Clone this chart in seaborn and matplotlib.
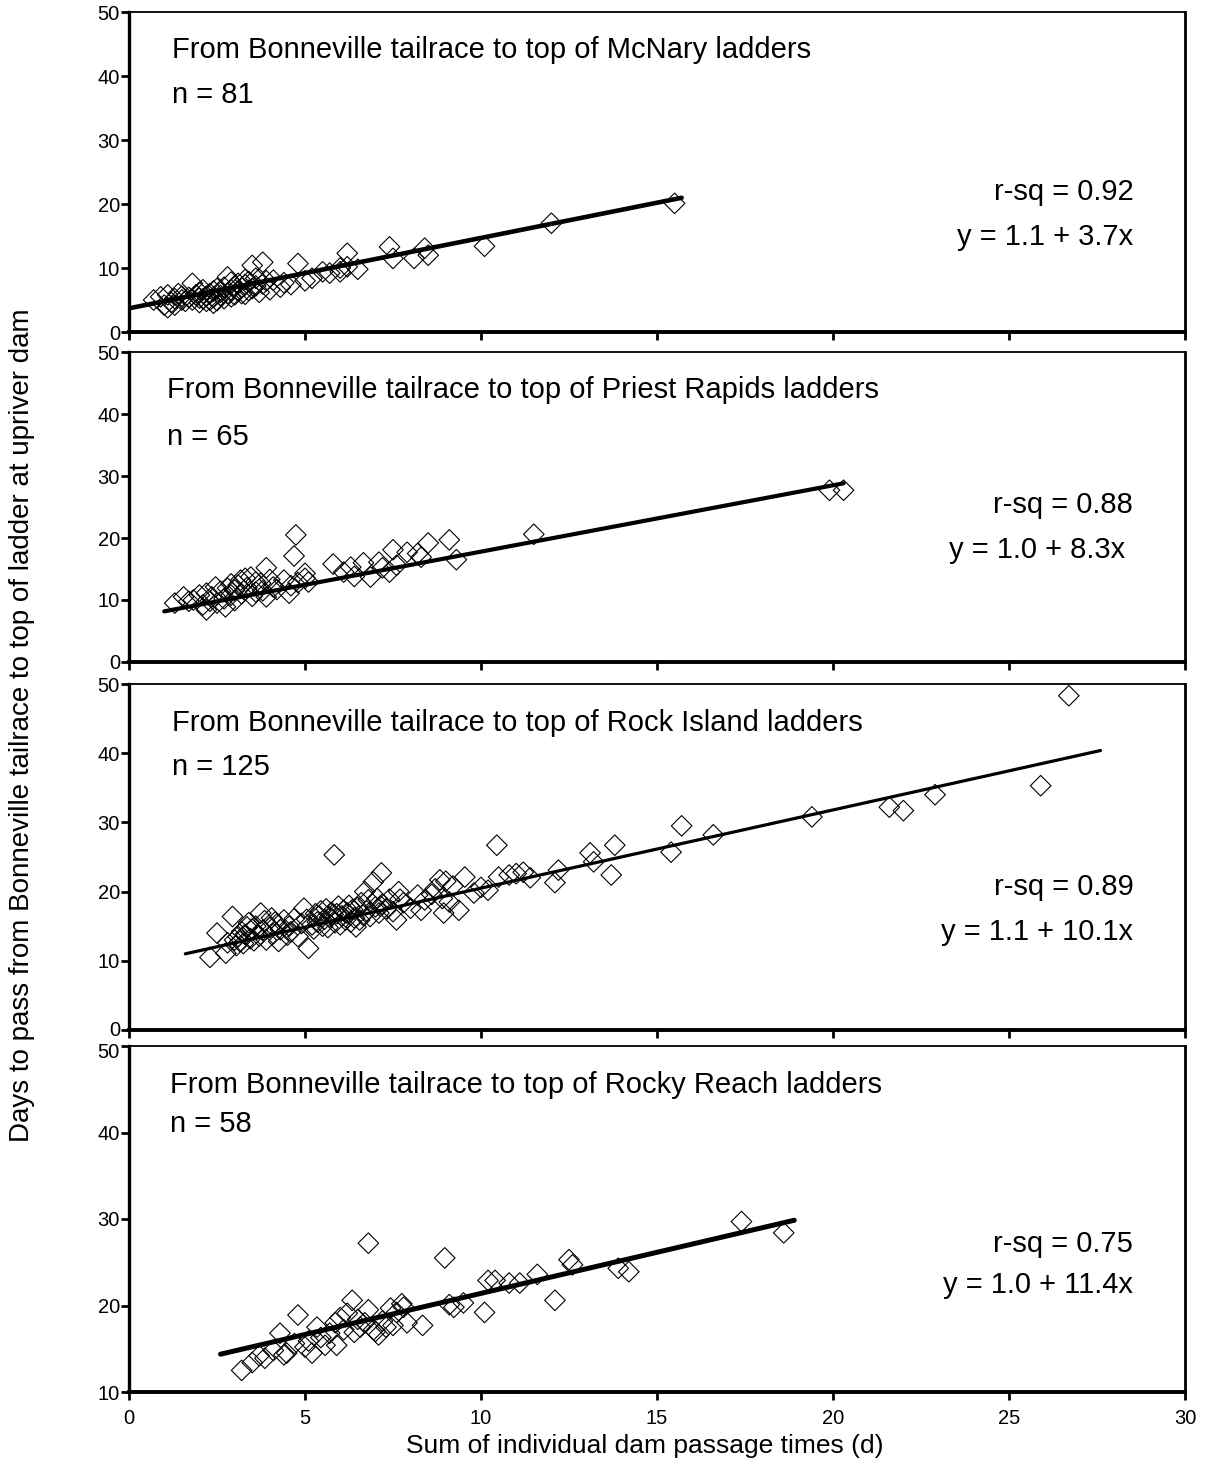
import numpy as np
import matplotlib
matplotlib.use("Agg")
import matplotlib.pyplot as plt
import matplotlib.transforms as mtransforms
import seaborn as sns

# ---------------- data ----------------
titles = [
    "From Bonneville tailrace to top of McNary ladders",
    "From Bonneville tailrace to top of Priest Rapids ladders",
    "From Bonneville tailrace to top of Rock Island ladders",
    "From Bonneville tailrace to top of Rocky Reach ladders",
]
n_labels = ["n = 81", "n = 65", "n = 125", "n = 58"]
rsq_labels = ["r-sq = 0.92", "r-sq = 0.88", "r-sq = 0.89", "r-sq = 0.75"]
eq_labels = ["y = 1.1 + 3.7x", "y = 1.0 + 8.3x ", "y = 1.1 + 10.1x", "y = 1.0 + 11.4x"]

mcnary_x = [0.7, 0.9, 1.0, 1.1, 1.1, 1.2, 1.3, 1.3, 1.4, 1.5, 1.5, 1.6, 1.7, 1.8, 1.8, 1.9,
            2.0, 2.0, 2.0, 2.1, 2.1, 2.2, 2.2, 2.3, 2.3, 2.4, 2.4, 2.4, 2.5, 2.5, 2.6, 2.6,
            2.7, 2.7, 2.8, 2.8, 2.9, 2.9, 2.9, 3.0, 3.0, 3.1, 3.1, 3.2, 3.2, 3.3, 3.3, 3.3,
            3.4, 3.4, 3.5, 3.5, 3.6, 3.6, 3.7, 3.8, 3.8, 3.9, 4.0, 4.1, 4.3, 4.4, 4.6, 4.8,
            5.0, 5.2, 5.5, 5.7, 6.0, 6.0, 6.2, 6.2, 6.5, 7.4, 7.5, 8.1, 8.4, 8.5, 10.1, 12.0, 15.5]
mcnary_y = [5.0, 5.5, 4.2, 3.8, 5.8, 4.6, 5.2, 4.2, 6.0, 5.0, 5.6, 4.8, 5.4, 7.6, 5.0, 5.8,
            4.6, 6.2, 5.3, 5.2, 6.6, 4.8, 5.6, 6.0, 5.0, 6.4, 5.4, 4.5, 4.9, 6.8, 5.7, 6.2,
            5.2, 7.0, 8.6, 6.0, 5.5, 6.6, 7.8, 7.2, 5.8, 6.4, 7.6, 6.0, 6.9, 7.4, 5.9, 8.2,
            6.5, 7.9, 10.4, 6.8, 7.2, 8.4, 6.2, 10.9, 7.5, 8.0, 6.6, 8.1, 7.0, 7.7, 7.4, 10.7,
            8.0, 8.4, 9.4, 9.2, 9.4, 10.0, 12.3, 10.2, 9.8, 13.3, 11.5, 11.5, 13.1, 12.0, 13.4, 17.0, 20.1]

priest_x = [1.3, 1.55, 1.7, 1.83, 2.0, 2.1, 2.2, 2.2, 2.3, 2.35, 2.46, 2.5, 2.6, 2.7, 2.74, 2.8,
            2.9, 2.9, 3.0, 3.0, 3.1, 3.17, 3.2, 3.3, 3.35, 3.46, 3.5, 3.6, 3.6, 3.74, 3.8, 3.9,
            3.9, 4.0, 4.1, 4.2, 4.4, 4.55, 4.6, 4.69, 4.74, 4.8, 5.0, 5.0, 5.1, 5.8, 6.1, 6.3,
            6.4, 6.66, 6.86, 7.1, 7.2, 7.4, 7.5, 7.6, 7.9, 8.2, 8.3, 8.5, 9.1, 9.3, 11.5, 19.9, 20.3]
priest_y = [9.5, 10.5, 9.8, 10.0, 10.8, 9.2, 11.1, 8.4, 9.8, 10.5, 12.1, 9.5, 11.4, 10.2, 8.9, 11.9,
            10.8, 12.6, 11.6, 9.9, 12.4, 13.2, 11.0, 13.5, 12.0, 13.7, 10.6, 12.9, 11.3, 12.7, 11.5, 15.2,
            10.5, 13.3, 12.1, 11.7, 13.2, 11.1, 12.3, 17.1, 20.5, 12.8, 14.3, 13.5, 12.9, 15.8, 14.5, 15.3,
            13.8, 16.0, 13.7, 16.1, 15.2, 14.5, 18.1, 15.6, 17.7, 17.5, 16.9, 19.2, 19.7, 16.5, 20.6, 27.7, 27.7]

rock_x = [2.3, 2.5, 2.75, 2.8, 2.94, 3.0, 3.05, 3.1, 3.15, 3.2, 3.25, 3.3, 3.35, 3.4, 3.45, 3.5,
          3.55, 3.6, 3.7, 3.74, 3.8, 3.85, 3.9, 4.0, 4.05, 4.1, 4.15, 4.2, 4.25, 4.3, 4.4, 4.5,
          4.55, 4.6, 4.7, 4.8, 4.9, 4.97, 5.05, 5.1, 5.2, 5.25, 5.3, 5.35, 5.4, 5.45, 5.5, 5.55,
          5.6, 5.65, 5.7, 5.75, 5.8, 5.83, 5.85, 5.9, 5.95, 6.0, 6.05, 6.1, 6.15, 6.2, 6.25, 6.3,
          6.35, 6.4, 6.45, 6.5, 6.55, 6.6, 6.65, 6.7, 6.75, 6.8, 6.85, 6.94, 7.0, 7.05, 7.1, 7.15,
          7.17, 7.2, 7.3, 7.4, 7.5, 7.6, 7.66, 7.7, 7.8, 8.0, 8.2, 8.3, 8.4, 8.6, 8.7, 8.83,
          8.9, 8.94, 9.0, 9.1, 9.2, 9.37, 9.54, 9.8, 10.0, 10.2, 10.45, 10.5, 10.8, 11.0, 11.2, 11.4,
          12.1, 12.2, 13.1, 13.2, 13.7, 13.8, 15.4, 15.7, 16.6, 19.4, 21.6, 22.0, 22.9, 25.9, 26.7]
rock_y = [10.5, 14.0, 11.1, 12.6, 16.4, 13.0, 12.2, 13.5, 12.8, 14.2, 12.5, 13.8, 14.9, 15.5, 13.2, 14.6,
          12.9, 15.0, 13.6, 16.9, 14.4, 15.8, 13.0, 14.8, 16.2, 13.9, 15.6, 15.3, 12.8, 14.5, 15.9, 13.7,
          15.0, 14.2, 16.1, 13.5, 15.4, 17.6, 16.0, 11.8, 15.2, 14.6, 16.8, 15.6, 16.5, 17.2, 15.0, 16.0,
          17.5, 14.8, 16.3, 17.0, 16.7, 25.3, 15.5, 16.8, 17.9, 15.2, 16.5, 17.3, 15.9, 16.9, 18.0, 15.6,
          17.4, 16.2, 14.9, 17.7, 15.9, 18.4, 16.6, 20.0, 17.2, 18.8, 16.4, 21.4, 17.8, 19.0, 16.9, 17.9,
          22.7, 18.2, 17.5, 18.9, 17.1, 15.9, 20.0, 18.9, 18.4, 17.6, 19.5, 17.3, 18.8, 19.6, 20.4, 21.7,
          19.0, 16.9, 21.5, 18.5, 20.8, 17.3, 22.1, 19.8, 20.6, 20.2, 26.7, 22.1, 22.4, 22.6, 22.8, 22.0,
          21.3, 23.1, 25.6, 24.3, 22.4, 26.7, 25.7, 29.5, 28.2, 30.8, 32.2, 31.7, 34.0, 35.3, 48.3]

rocky_x = [3.2, 3.5, 3.7, 3.86, 4.1, 4.29, 4.4, 4.48, 4.7, 4.8, 5.0, 5.1, 5.2, 5.34, 5.45, 5.57,
           5.7, 5.86, 5.9, 6.0, 6.1, 6.2, 6.34, 6.4, 6.5, 6.57, 6.7, 6.8, 6.8, 6.95, 7.0, 7.09,
           7.2, 7.3, 7.43, 7.5, 7.6, 7.75, 7.8, 7.9, 8.34, 8.97, 9.1, 9.23, 9.5, 10.1, 10.2, 10.4,
           10.8, 11.1, 11.6, 12.1, 12.5, 12.6, 13.9, 14.2, 17.4, 18.6]
rocky_y = [12.5, 13.4, 14.2, 13.9, 14.8, 16.8, 14.3, 14.5, 15.6, 18.9, 15.2, 15.9, 14.5, 17.5, 16.3, 15.4,
           16.8, 18.0, 15.4, 18.6, 17.2, 19.1, 20.6, 16.9, 18.4, 17.5, 18.0, 27.2, 19.5, 17.2, 17.0, 16.6,
           18.2, 17.5, 19.7, 17.7, 19.2, 20.2, 19.8, 18.0, 17.7, 25.5, 20.1, 19.8, 20.3, 19.2, 22.9, 22.9,
           22.6, 22.6, 23.6, 20.6, 25.3, 24.7, 24.3, 23.9, 29.7, 28.4]

# fitted lines as drawn (intercept, slope, x-range)
fit_intercept = [3.7, 7.1, 9.2, 11.9]
fit_slope = [1.1, 1.07, 1.13, 0.95]
fit_x_start = [0.0, 1.0, 1.6, 2.6]
fit_x_end = [15.7, 20.3, 27.6, 18.9]

x_ticks = [0, 5, 10, 15, 20, 25, 30]
y_limits = [(0, 50), (0, 50), (0, 50), (10, 50)]
xs_all = [mcnary_x, priest_x, rock_x, rocky_x]
ys_all = [mcnary_y, priest_y, rock_y, rocky_y]

# ---------------- style / layout ----------------
sns.set_style("ticks")
plt.rcParams["font.family"] = ["Liberation Sans", "DejaVu Sans"]
plt.rcParams["text.color"] = "black"
plt.rcParams["axes.labelcolor"] = "black"

W, H = 1207, 1467
fig = plt.figure(figsize=(W / 100, H / 100), dpi=100)

left_px, right_px = 129, 1185
panels_px = [(12, 332), (352, 662), (684, 1030), (1046, 1392)]
title_pos = [(0.881, 0.741), (0.877, 0.726), (0.887, 0.760), (0.887, 0.775)]
stat_pos = [(0.4375, 0.297), (0.506, 0.361), (0.413, 0.283), (0.428, 0.309)]
title_x = [0.041, 0.036, 0.041, 0.039]
line_w = [3.3, 3.0, 2.3, 3.6]
FS = 21

axes = []
for i in range(4):
    top, bot = panels_px[i]
    ax = fig.add_axes([left_px / W, 1 - bot / H, (right_px - left_px) / W, (bot - top) / H])
    axes.append(ax)
    sns.scatterplot(x=xs_all[i], y=ys_all[i], ax=ax, marker="D", s=110,
                    facecolor="none", edgecolor="black", linewidth=0.8, zorder=3)
    lx = np.array([fit_x_start[i], fit_x_end[i]])
    ly = fit_intercept[i] + fit_slope[i] * lx
    sns.lineplot(x=lx, y=ly, ax=ax, color="black", linewidth=line_w[i], zorder=4)

    ax.set_xlim(0, 30)
    ax.set_ylim(*y_limits[i])
    ax.set_xticks(x_ticks)
    ax.set_yticks(np.arange(y_limits[i][0], 51, 10))
    ax.tick_params(axis="both", direction="out", length=5.5, width=2.0, color="black",
                   labelsize=14.5, labelcolor="black", pad=1)
    ax.tick_params(axis="x", length=6, pad=6)
    if i < 3:
        ax.set_xticklabels([])
    for side, lw in [("left", 2.4), ("bottom", 2.8), ("right", 2.0), ("top", 1.3)]:
        ax.spines[side].set_visible(True)
        ax.spines[side].set_linewidth(lw)
        ax.spines[side].set_color("black")
    ax.set_xlabel("")
    ax.set_ylabel("")

    ax.text(title_x[i], title_pos[i][0], titles[i], transform=ax.transAxes,
            fontsize=FS, va="center", ha="left", color="black")
    ax.text(title_x[i], title_pos[i][1], n_labels[i], transform=ax.transAxes,
            fontsize=FS, va="center", ha="left", color="black")
    ax.text(0.951, stat_pos[i][0], rsq_labels[i], transform=ax.transAxes,
            fontsize=FS, va="center", ha="right", color="black")
    ax.text(0.951, stat_pos[i][1], eq_labels[i], transform=ax.transAxes,
            fontsize=FS, va="center", ha="right", color="black")

# nudge the touching "0" / "50" labels between panels 3 and 4 slightly apart
fig.canvas.draw()
up = mtransforms.ScaledTranslation(0, 2 / 100, fig.dpi_scale_trans)
down = mtransforms.ScaledTranslation(0, -4 / 100, fig.dpi_scale_trans)
lab0 = axes[2].get_yticklabels()[0]
lab0.set_transform(lab0.get_transform() + up)
lab50 = axes[3].get_yticklabels()[-1]
lab50.set_transform(lab50.get_transform() + down)

fig.text(22 / W, 1 - 725 / H, "Days to pass from Bonneville tailrace to top of ladder at upriver dam",
         rotation=90, ha="center", va="center", fontsize=20, color="black")
fig.text(645 / W, 1 - 1446 / H, "Sum of individual dam passage times (d)",
         ha="center", va="center", fontsize=19, color="black")

fig.savefig("out.png", dpi=100, facecolor="white")
